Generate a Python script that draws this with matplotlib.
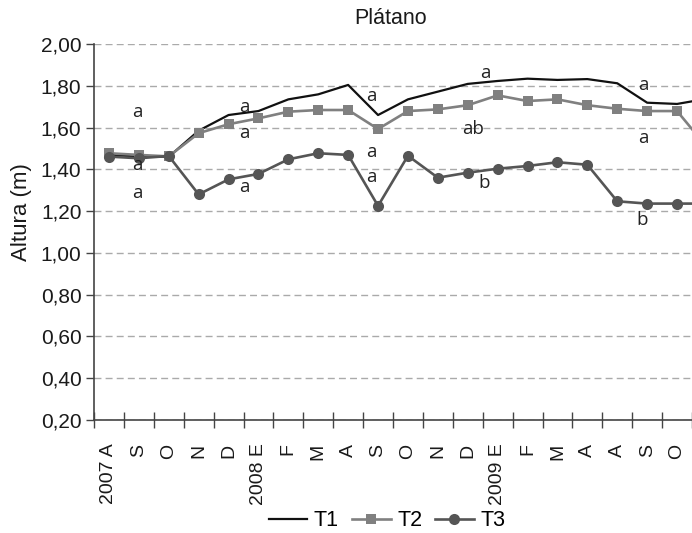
import matplotlib
matplotlib.use("Agg")
import matplotlib.pyplot as plt
from matplotlib.ticker import FixedLocator, FuncFormatter

# ---- data ----
months = ["2007 A", "S", "O", "N", "D", "2008 E", "F", "M", "A", "S",
          "O", "N", "D", "2009 E", "F", "M", "A", "A", "S", "O", "N"]
t1 = [1.47, 1.46, 1.46, 1.585, 1.660, 1.679, 1.735, 1.759, 1.804, 1.660,
      1.735, 1.772, 1.809, 1.823, 1.834, 1.828, 1.832, 1.812, 1.719, 1.713, 1.738]
t2 = [1.477, 1.469, 1.462, 1.573, 1.616, 1.644, 1.676, 1.684, 1.684, 1.593,
      1.679, 1.687, 1.707, 1.754, 1.727, 1.735, 1.707, 1.690, 1.679, 1.679, 1.506]
t3 = [1.461, 1.453, 1.464, 1.280, 1.352, 1.378, 1.448, 1.477, 1.469, 1.225,
      1.465, 1.360, 1.384, 1.403, 1.416, 1.434, 1.422, 1.247, 1.236, 1.236, 1.236]

ann_text = ["a", "a", "a", "a", "a", "a", "a", "a", "a",
            "a", "ab", "b", "a", "a", "b"]
ann_x = [0.95, 0.95, 0.95, 4.52, 4.52, 4.52, 8.79, 8.79, 8.79,
         12.58, 12.19, 12.54, 17.87, 17.87, 17.82]
ann_y = [1.676, 1.421, 1.285, 1.697, 1.572, 1.314, 1.751, 1.484, 1.362,
         1.860, 1.592, 1.336, 1.804, 1.549, 1.157]

yticks = [0.2, 0.4, 0.6, 0.8, 1.0, 1.2, 1.4, 1.6, 1.8, 2.0]

# ---- figure ----
W, H = 692, 533
fig = plt.figure(figsize=(W / 100, H / 100), dpi=100)
ax = fig.add_axes([94 / W, 1 - 420 / H, 598 / W, (420 - 44) / H])

sans = ["Liberation Sans", "DejaVu Sans"]
x = list(range(len(t1)))

ax.plot(x, t1, color="#111111", lw=1.6, label="T1")
ax.plot(x, t2, color="#808080", lw=1.9, marker="s", ms=7.5,
        markeredgewidth=0, label="T2")
ax.plot(x, t3, color="#555555", lw=1.9, marker="o", ms=8,
        markeredgewidth=0, label="T3")

for tx, xx, yy in zip(ann_text, ann_x, ann_y):
    ax.text(xx, yy, tx, ha="center", va="center", fontsize=13.5,
            family=["Open Sans", "DejaVu Sans"], color="#222222")

ax.set_yticks(yticks)
ax.yaxis.set_major_formatter(FuncFormatter(lambda v, p: f"{v:.2f}".replace(".", ",")))
ax.yaxis.grid(True, color="#aaaaaa", linestyle=(0, (5, 3)), lw=1.0)
ax.set_axisbelow(True)

ax.set_xticks(x)
ax.set_xticklabels(months, rotation=90, ha="center", va="top")
ax.xaxis.set_minor_locator(FixedLocator([i - 0.5 for i in range(21)]))
ax.tick_params(axis="x", which="major", length=0, pad=17)
ax.tick_params(axis="x", which="minor", direction="inout", length=12,
               width=1.0, color="#444444")
ax.tick_params(axis="y", which="major", direction="out", length=6,
               width=1.0, color="#444444", pad=3)

ax.set_xlim(-0.5, 19.5)
ax.set_ylim(0.2, 2.0)

for lab in ax.get_xticklabels():
    lab.set_fontsize(14)
    lab.set_family(sans)
    lab.set_color("#1a1a1a")
for lab in ax.get_yticklabels():
    lab.set_fontsize(15)
    lab.set_family(sans)
    lab.set_color("#1a1a1a")

for s in ["top", "right"]:
    ax.spines[s].set_visible(False)
for s in ["left", "bottom"]:
    ax.spines[s].set_color("#444444")
    ax.spines[s].set_linewidth(1.2)

ax.set_ylabel("Altura (m)", fontsize=16, family=sans, color="#1a1a1a")
ax.yaxis.set_label_coords((32 - 94) / 598, (420 - 212) / 376)

fig.text(391 / W, 1 - 19 / H, "Plátano", ha="center", va="center",
         fontsize=15.5, family=sans, color="#1a1a1a")

leg = fig.legend(loc="center", bbox_to_anchor=(387 / W, 1 - 521 / H), ncol=3,
                 frameon=False, handlelength=1.8, handletextpad=0.3,
                 columnspacing=0.6, prop={"family": sans, "size": 15.5})

fig.savefig("out.png", dpi=100)
